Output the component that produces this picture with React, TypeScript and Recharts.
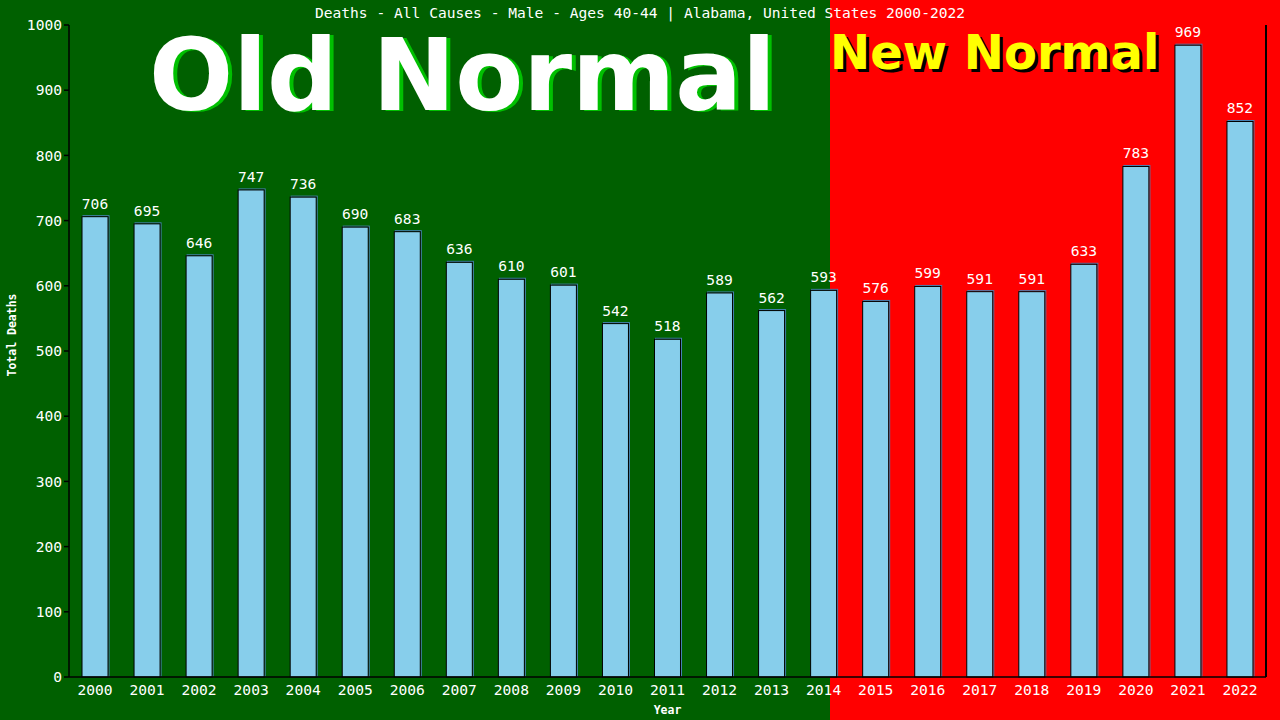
import React from "react";
import { BarChart, Bar, XAxis, YAxis, LabelList } from "recharts";

const years = ["2000","2001","2002","2003","2004","2005","2006","2007","2008","2009","2010","2011","2012","2013","2014","2015","2016","2017","2018","2019","2020","2021","2022"];
const deaths = [706,695,646,747,736,690,683,636,610,601,542,518,589,562,593,576,599,591,591,633,783,969,852];
const yTicks = [0,100,200,300,400,500,600,700,800,900,1000];

const data = years.map((y, i) => ({ year: y, deaths: deaths[i] }));

const MONO = "'DejaVu Sans Mono', 'Liberation Mono', monospace";

const renderBar = (props: any) => {
  const x0 = Number(props.x);
  const y0 = Number(props.y);
  const w0 = Number(props.width);
  const h0 = Number(props.height);
  if (!isFinite(x0) || !isFinite(y0) || !isFinite(w0) || !isFinite(h0)) return <g />;
  const x = Math.min(x0, x0 + w0);
  const w = Math.abs(w0);
  const y = Math.min(y0, y0 + h0);
  const h = Math.abs(h0);
  return (
    <g>
      <rect x={x + 1} y={y - 1} width={w} height={h} fill="none" stroke="#4682b4" strokeWidth={1} />
      <rect x={x} y={y} width={w} height={h} fill="#87CEEB" stroke="#000" strokeWidth={1} />
    </g>
  );
};

export default function App() {
  return (
    <div
      style={{
        position: "absolute",
        left: 0,
        top: 0,
        width: 1280,
        height: 720,
        background: "linear-gradient(to right, #006000 0px, #006000 830px, #ff0000 830px, #ff0000 1280px)",
        overflow: "hidden",
      }}
    >
      <div
        style={{
          position: "absolute",
          left: 0,
          top: 4,
          width: 1280,
          textAlign: "center",
          color: "#fff",
          fontFamily: MONO,
          fontSize: 14.6,
          lineHeight: "18px",
        }}
      >
        Deaths - All Causes - Male - Ages 40-44 | Alabama, United States 2000-2022
      </div>
      <div
        style={{
          position: "absolute",
          left: 149,
          top: 27,
          color: "#fff",
          fontFamily: "'DejaVu Sans', Verdana, sans-serif",
          fontWeight: "bold",
          fontSize: 99,
          lineHeight: "98px",
          textShadow: "4px 1px 0 #00c000",
          whiteSpace: "nowrap",
        }}
      >
        Old Normal
      </div>
      <div
        style={{
          position: "absolute",
          left: 830,
          top: 22,
          color: "#ffff00",
          fontFamily: "'DejaVu Sans', Verdana, sans-serif",
          fontWeight: "bold",
          fontSize: 48,
          lineHeight: "60px",
          textShadow: "3px 3px 0 #000",
          whiteSpace: "nowrap",
        }}
      >
        New Normal
      </div>
      <div
        style={{
          position: "absolute",
          left: 12,
          top: 335,
          transform: "translate(-50%, -50%) rotate(-90deg)",
          color: "#fff",
          fontFamily: MONO,
          fontSize: 11.5,
          fontWeight: "bold",
          whiteSpace: "nowrap",
        }}
      >
        Total Deaths
      </div>
      <div
        style={{
          position: "absolute",
          left: 1265,
          top: 25,
          width: 1.5,
          height: 652,
          background: "#000",
        }}
      />
      <div style={{ position: "absolute", left: 0, top: 0 }}>
        <BarChart
          width={1280}
          height={720}
          data={data}
          margin={{ top: 25, right: 14, left: 0, bottom: 13 }}
          barCategoryGap="25%"
        >
          <XAxis
            dataKey="year"
            height={30}
            tickLine={false}
            axisLine={{ stroke: "#000", strokeWidth: 1.5 }}
            tick={{ fill: "#fff", fontFamily: MONO, fontSize: 14.6 }}
            interval={0}
            label={{ value: "Year", position: "insideBottom", offset: -7, fill: "#fff", fontFamily: MONO, fontSize: 11.5, fontWeight: "bold" }}
          />
          <YAxis
            domain={[0, 1000]}
            ticks={yTicks}
            width={69}
            interval={0}
            axisLine={{ stroke: "#000", strokeWidth: 1.5 }}
            tickLine={{ stroke: "#000", strokeWidth: 1.5 }}
            tickSize={5}
            tick={{ fill: "#fff", fontFamily: MONO, fontSize: 14.6 }}
          />
          <Bar dataKey="deaths" fill="#87CEEB" stroke="#000" shape={renderBar} isAnimationActive={false}>
            <LabelList dataKey="deaths" position="top" offset={8} fill="#fff" fontFamily={MONO} fontSize={14.6} />
          </Bar>
        </BarChart>
      </div>
    </div>
  );
}
